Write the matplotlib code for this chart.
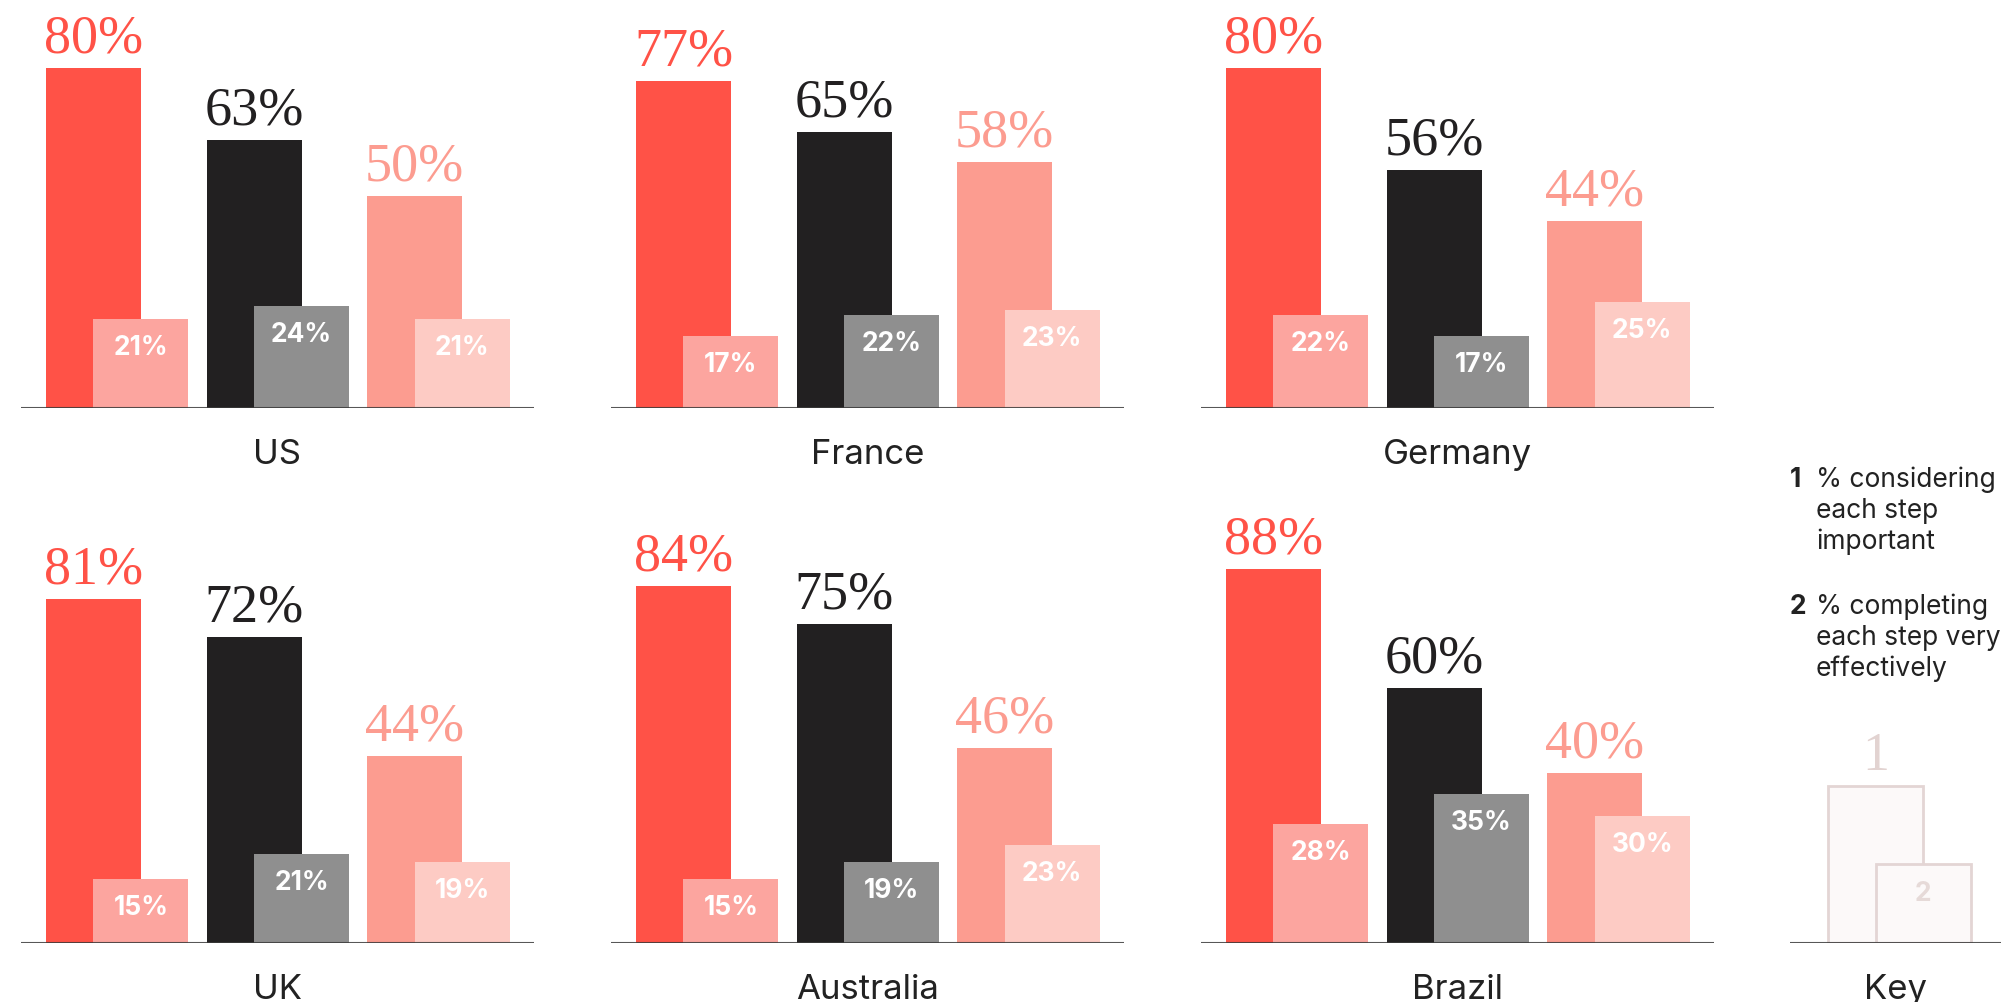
import matplotlib
matplotlib.use("Agg")
import matplotlib.pyplot as plt

# Data: (% considering each step important, % completing it very effectively)
COUNTRIES = ["US", "France", "Germany", "UK", "Australia", "Brazil"]
IMPORTANT = [
    [80, 63, 50],
    [77, 65, 58],
    [80, 56, 44],
    [81, 72, 44],
    [84, 75, 46],
    [88, 60, 40],
]
EFFECTIVE = [
    [21, 24, 21],
    [17, 22, 23],
    [22, 17, 25],
    [15, 21, 19],
    [15, 19, 23],
    [28, 35, 30],
]
KEY_VALUES = [37, 18.5]
KEY_LABELS = ["1", "2"]
LEGEND_LINES = [
    ["% considering", "each step", "important"],
    ["% completing", "each step very", "effectively"],
]

BIG_COLORS = ["#FF5247", "#222021", "#FC9C90"]
SMALL_COLORS = ["#FCA59F", "#8F8F8F", "#FDCBC4"]

SERIF = "Liberation Serif"
SANS = "Inter"

W, H = 2001, 1002
PX_PER_PCT = 4.25      # pixels per percentage point
BAR_PX = 95            # bar width in pixels
PANEL_PX = 513         # width of each panel's baseline
PANEL_X = [21, 611, 1201]
BASE_Y = [408, 943]    # baseline of each row, pixels from top
YMAX = 95
XMAX = PANEL_PX / BAR_PX


def make_axes(fig, left_px, base_px):
    ax = fig.add_axes([left_px / W, (H - base_px) / H, PANEL_PX / W, YMAX * PX_PER_PCT / H])
    ax.set_xlim(0, XMAX)
    ax.set_ylim(0, YMAX)
    ax.axis("off")
    ax.axhline(0, color="#3a3a3a", lw=1.5, alpha=0.85, zorder=5)
    return ax


def draw_panel(ax, name, big, small):
    """ Draws one country: tall bar per step with the smaller 'effective' bar overlapping it """
    for i in range(3):
        x = 0.263 + 1.69 * i
        ax.bar(x, big[i], width=1, align="edge", color=BIG_COLORS[i], zorder=2)
        ax.bar(x + 0.5, small[i], width=1, align="edge", color=SMALL_COLORS[i], zorder=3)

        ax.annotate(f"{big[i]}%", (x + 0.5, big[i]), xytext=(0, 11), textcoords="offset points",
                    ha="center", va="baseline", fontsize=39, family=SERIF, color=BIG_COLORS[i])
        ax.annotate(f"{small[i]}%", (x + 1.0, small[i]), xytext=(0, -21), textcoords="offset points",
                    ha="center", va="center", fontsize=19, family=SANS, fontweight="bold",
                    color="white", zorder=6)

    ax.annotate(name, (0.5, 0), xycoords="axes fraction", xytext=(0, -40), textcoords="offset points",
                ha="center", va="baseline", fontsize=25, family=SANS, color="#222222")


def draw_key(fig):
    ax = make_axes(fig, 1790, BASE_Y[1])
    x = 38 / BAR_PX
    for i, (v, lab) in enumerate(zip(KEY_VALUES, KEY_LABELS)):
        ax.bar(x + 0.5 * i, v, width=1, align="edge", color="#FCF9F9",
               edgecolor="#E3D5D4", lw=2, zorder=2 + i)
    ax.annotate(KEY_LABELS[0], (x + 0.5, KEY_VALUES[0]), xytext=(0, 11), textcoords="offset points",
                ha="center", va="baseline", fontsize=39, family=SERIF, color="#E2D3D1")
    ax.annotate(KEY_LABELS[1], (x + 1.0, KEY_VALUES[1]), xytext=(0, -21), textcoords="offset points",
                ha="center", va="center", fontsize=19, family=SANS, fontweight="bold",
                color="#E6DAD8", zorder=6)
    ax.annotate("Key", ((1895 - 1790) / BAR_PX, 0), xytext=(0, -40), textcoords="offset points",
                ha="center", va="baseline", fontsize=25, family=SANS, color="#222222")

    # Legend text to the right of the panels
    tops = [487, 614]
    for k, lines in enumerate(LEGEND_LINES):
        fig.text(1790 / W, 1 - tops[k] / H, KEY_LABELS[k], fontsize=19, family=SANS,
                 fontweight="bold", color="#222222", va="baseline")
        for j, line in enumerate(lines):
            fig.text(1816 / W, 1 - (tops[k] + 31 * j) / H, line, fontsize=19, family=SANS,
                     color="#222222", va="baseline")


def main():
    fig = plt.figure(figsize=(W / 100, H / 100), dpi=100)
    fig.patch.set_facecolor("white")

    for n, name in enumerate(COUNTRIES):
        ax = make_axes(fig, PANEL_X[n % 3], BASE_Y[n // 3])
        draw_panel(ax, name, IMPORTANT[n], EFFECTIVE[n])

    draw_key(fig)

    fig.savefig("out.png", dpi=100)
    plt.close(fig)


main()
